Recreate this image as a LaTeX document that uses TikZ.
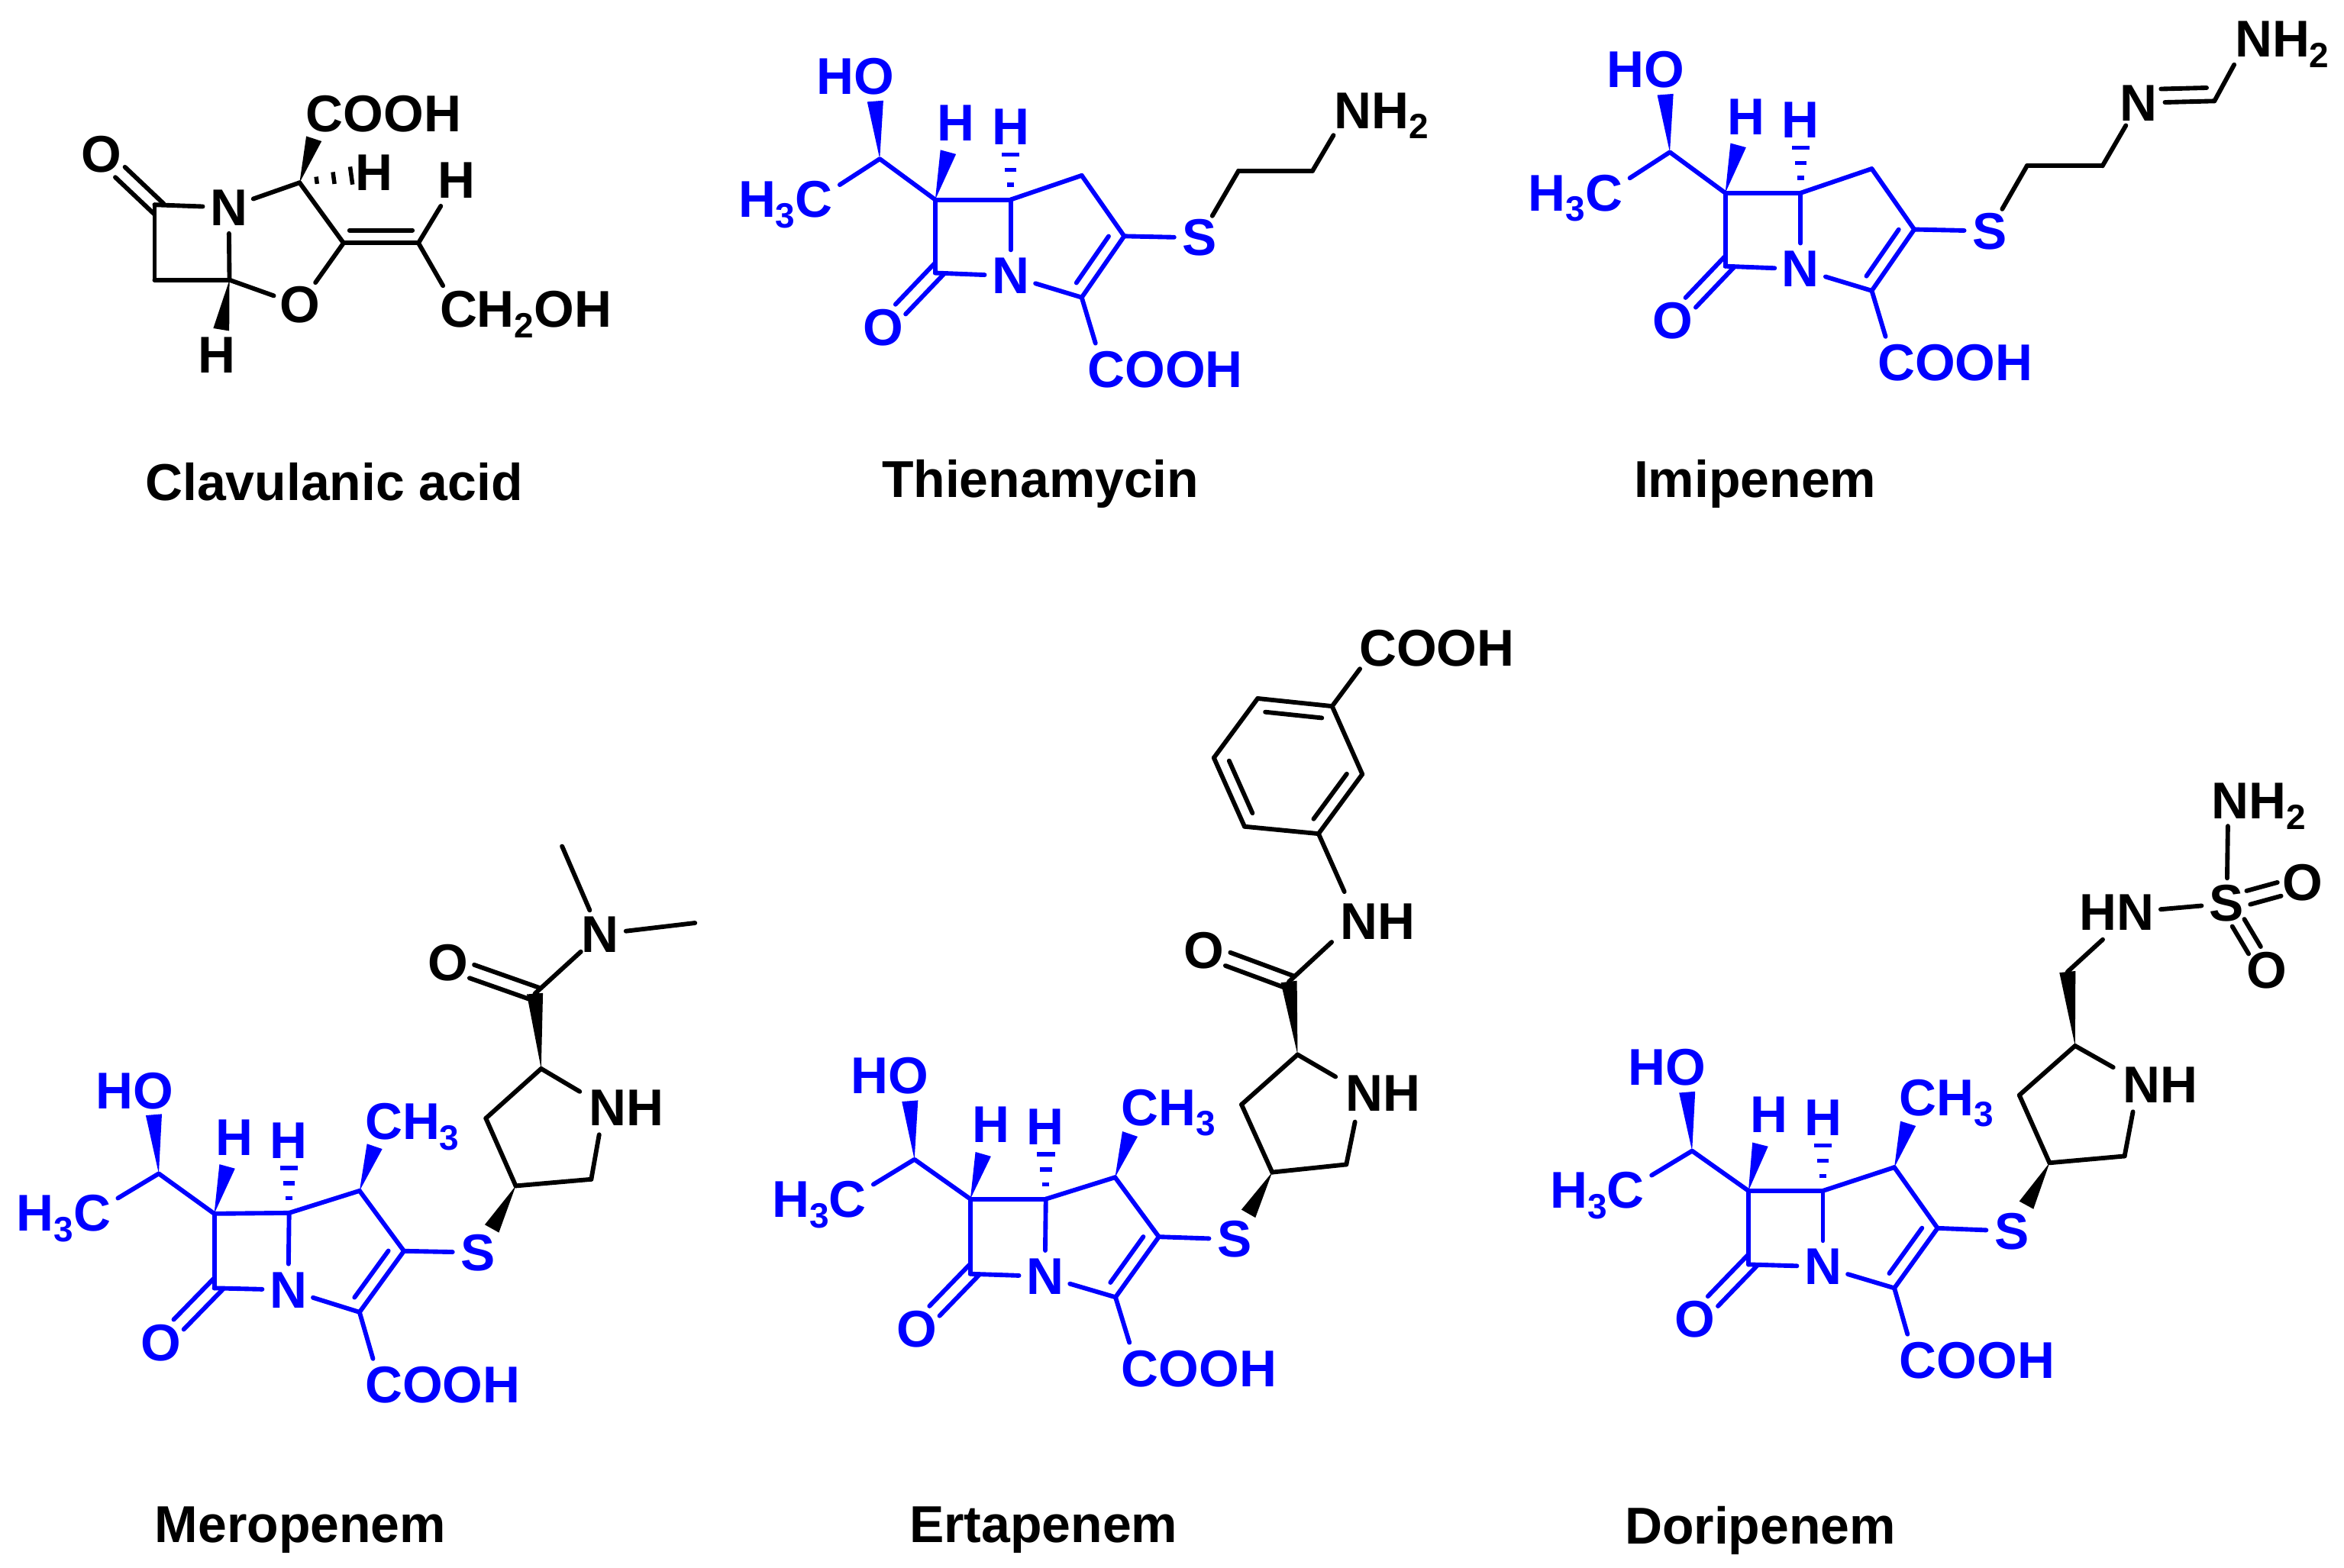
\documentclass[tikz,border=0pt]{standalone}
\usepackage{fontspec}
\setmainfont{Liberation Sans}
\usetikzlibrary{calc}
\definecolor{molblue}{RGB}{0,0,255}
\newcommand\sbs[1]{\raisebox{-7pt}{\fontsize{23.5}{23.5}\selectfont #1}}
\tikzset{
  bond/.style={line width=3pt,line cap=round,line join=round},
  hashline/.style={line width=2.8pt,line cap=butt},
  atom/.style={circle,inner sep=0pt,font=\fontsize{34.6}{34.6}\selectfont\bfseries},
  lab/.style={inner sep=0pt,anchor=base west,font=\fontsize{34.6}{34.6}\selectfont\bfseries},
  capt/.style={inner sep=0pt,anchor=base,text=black,font=\fontsize{34.7}{34.7}\selectfont\bfseries}
}
% wedge bond: narrow at #1, wide at #2
\newcommand\wedgeb[2]{\fill (#1) -- ($(#2)!5.4pt!90:(#1)$) -- ($(#2)!5.4pt!-90:(#1)$) -- cycle;}
% hashed bond from #1 to #2
\newcommand\hashb[2]{\foreach \ff/\ww in {.33/2.4,.66/4,1/6}{\draw[hashline] ($(#1)!\ff!(#2)!\ww pt!90:(#1)$) -- ($(#1)!\ff!(#2)!\ww pt!-90:(#1)$);}}
% double bond, symmetric: #1,#2 ends; #3 trim at start; #4 trim at end
\newcommand\dbl[4]{\draw[bond,shorten <=#3,shorten >=#4] ($(#1)!4.7pt!90:(#2)$) -- ($(#2)!4.7pt!-90:(#1)$);
  \draw[bond,shorten <=#3,shorten >=#4] ($(#1)!4.7pt!-90:(#2)$) -- ($(#2)!4.7pt!90:(#1)$);}
% inner line of a double bond: side #3 (90 or -90), #4 start trim, #5 end trim, offset 8.5
\newcommand\innerb[5]{\draw[bond,shorten <=#4,shorten >=#5] ($(#1)!8.5pt!#3:(#2)$) -- ($(#2)!8.5pt!-#3:(#1)$);}
% bonds shared by the blue carbapenem core
\newcommand\corebonds{
  \wedgeb{hoC}{hoW}
  \wedgeb{TL}{hW}
  \hashb{TR}{hE}
  \draw[bond] ([shift={(4.6,2.5)}]hc.north east) -- (hoC) -- (TL);
  \draw[bond] (TL) -- (TR);
  \draw[bond] (TR) -- (N);
  \draw[bond] (TL) -- (BL);
  \draw[bond] (BL) -- (N);
  \draw[bond] (TR) -- (C5);
  \draw[bond] (C5) -- (C3);
  \draw[bond] (C3) -- (C2);
  \draw[bond] (C2) -- (N);
  \draw[bond] (C3) -- (S);
  \draw[bond] (C2) -- ([shift={(5.5,-5)}]cooh.north west);
  \innerb{C3}{C2}{-90}{6pt}{6pt}
  \dbl{BL}{O}{-4pt}{17pt}
}
% thienamycin-type core and chain head
\newcommand\thiencore{
  \coordinate (hoC) at (588.5,106.3);
  \coordinate (hoW) at (585.5,67.7);
  \coordinate (TL) at (625.6,133.6);
  \coordinate (TR) at (676,133.6);
  \coordinate (BL) at (625.6,182.6);
  \coordinate (C5) at (723.6,117.4);
  \coordinate (C3) at (752,158);
  \coordinate (C2) at (723.6,199);
  \coordinate (hW) at (634.3,101.7);
  \coordinate (hE) at (676,103.3);
  \node[atom] (N) at (676,184.6) {N};
  \node[atom] (S) at (802.4,159.1) {S};
  \node[atom] (O) at (590.7,219.2) {O};
  \node[atom] (Ha) at (639.6,82.5) {H};
  \node[atom] (Hb) at (676,84.7) {H};
  \node[lab] (ho) at (546,63) {HO};
  \node[lab] (hc) at (493.7,145.5) {H\sbs{3}C};
  \node[lab] (cooh) at (727.3,259) {COOH};
  \corebonds
}
\begin{document}
\begin{tikzpicture}[x=1pt,y=-1pt]
\useasboundingbox (0,0) rectangle (1568,1049);
\fill[white] (0,0) rectangle (1568,1049);

% ---------- Clavulanic acid
\begin{scope}[name prefix=cl-]
  \coordinate (co) at (103.4,137);
  \coordinate (c4) at (153.5,187.3);
  \coordinate (c5) at (103.4,187.3);
  \coordinate (c3) at (200.4,122.2);
  \coordinate (v1) at (229.8,162.6);
  \coordinate (v2) at (279.9,162.6);
  \coordinate (w1) at (210,92.8);
  \coordinate (w2) at (148,220.5);
  \coordinate (hh) at (235,117.5);
  \node[atom] (Oa) at (68,103.5) {O};
  \node[atom] (N) at (153,138.8) {N};
  \node[atom] (Or) at (200.4,204) {O};
  \node[atom] (H1) at (250,115.4) {H};
  \node[atom] (H2) at (305.4,120.4) {H};
  \node[atom] (H3) at (145,237.5) {H};
  \node[lab] (cooh) at (204.6,88.2) {COOH};
  \node[lab] (ch) at (294,218.8) {CH\sbs{2}OH};
  \wedgeb{c3}{w1}
  \wedgeb{c4}{w2}
  \hashb{c3}{hh}
  \draw[bond] (co) -- (N);
  \draw[bond] (N) -- (c4);
  \draw[bond] (c4) -- (c5);
  \draw[bond] (c5) -- (co);
  \draw[bond] (N) -- (c3);
  \draw[bond] (c3) -- (v1);
  \draw[bond] (v1) -- (Or);
  \draw[bond] (Or) -- (c4);
  \draw[bond] (v1) -- (v2);
  \innerb{v1}{v2}{90}{4pt}{4pt}
  \draw[bond,shorten >=3pt] (v2) -- (H2);
  \draw[bond] (v2) -- ([shift={(2.3,-3.3)}]ch.north west);
  \dbl{co}{Oa}{-4pt}{17pt}
\end{scope}

% ---------- Thienamycin
\begin{scope}[name prefix=th-,color=molblue]
  \thiencore
\end{scope}
\coordinate (th-a) at (828.5,114.3);
\coordinate (th-b) at (878,114.3);
\node[lab] (th-nh) at (892.3,85.9) {NH\sbs{2}};
\draw[bond] (th-S) -- (th-a);
\draw[bond] (th-a) -- (th-b);
\draw[bond] (th-b) -- ([shift={(-0.3,4.6)}]th-nh.base west);

% ---------- Imipenem
\begin{scope}[name prefix=im-,color=molblue,shift={(528.5,-4.5)}]
  \thiencore
\end{scope}
\coordinate (im-a) at (1355.9,111);
\coordinate (im-b) at (1406.4,111);
\coordinate (im-c) at (1481.3,67.6);
\node[atom] (im-n) at (1430.8,68.9) {N};
\node[lab] (im-nh) at (1494.8,38.3) {NH\sbs{2}};
\draw[bond] (im-S) -- (im-a);
\draw[bond] (im-a) -- (im-b);
\draw[bond] (im-b) -- (im-n);
\draw[bond] (im-n) -- (im-c);
\draw[bond,shorten <=15pt,shorten >=5pt] ($(im-n)!9pt!90:(im-c)$) -- ($(im-c)!9pt!-90:(im-n)$);
\draw[bond] (im-c) -- ([shift={(-0.3,5)}]im-nh.base west);

% ---------- Meropenem
\begin{scope}[name prefix=me-,color=molblue]
  \coordinate (hoC) at (106.2,785.2);
  \coordinate (hoW) at (102.9,745.8);
  \coordinate (TL) at (143.3,812);
  \coordinate (TR) at (193.4,811.5);
  \coordinate (BL) at (143.3,861.8);
  \coordinate (C5) at (240.5,796.7);
  \coordinate (C3) at (270.2,837);
  \coordinate (C2) at (240.5,877.9);
  \coordinate (hW) at (152,780.4);
  \coordinate (hE) at (193.4,781.4);
  \coordinate (mW) at (250.6,767);
  \node[atom] (N) at (192.8,863) {N};
  \node[atom] (S) at (319.7,838) {S};
  \node[atom] (O) at (107.7,898.3) {O};
  \node[atom] (Ha) at (156.9,761) {H};
  \node[atom] (Hb) at (192.8,763) {H};
  \node[lab] (ho) at (64,741.8) {HO};
  \node[lab] (hc) at (10.8,823.5) {H\sbs{3}C};
  \node[lab] (ch3) at (244,762.2) {CH\sbs{3}};
  \node[lab] (cooh) at (244,938.4) {COOH};
  \corebonds
  \wedgeb{C5}{mW}
\end{scope}
\begin{scope}[name prefix=me-]
  \coordinate (r1) at (345,793.4);
  \coordinate (r1w) at (329,822);
  \coordinate (r2) at (395.5,789);
  \coordinate (r3) at (362,715);
  \coordinate (r4) at (325,748.2);
  \coordinate (am) at (357.8,664.8);
  \coordinate (m1) at (376,566.2);
  \coordinate (m2) at (464.9,617.5);
  \node[lab] (nh) at (394,753.3) {NH};
  \node[atom] (am-O) at (299.6,644.3) {O};
  \node[atom] (am-N) at (401.4,625) {N};
  \wedgeb{r1}{r1w}
  \wedgeb{r3}{am}
  \draw[bond] (r1) -- (r2);
  \draw[bond] (r2) -- ([shift={(6.8,5.6)}]nh.south west);
  \draw[bond] (r3) -- ([shift={(-6.2,1)}]nh.north west);
  \draw[bond] (r3) -- (r4);
  \draw[bond] (r4) -- (r1);
  \dbl{am}{am-O}{-2pt}{17pt}
  \draw[bond] (am) -- (am-N);
  \draw[bond] (am-N) -- (m1);
  \draw[bond] (am-N) -- (m2);
\end{scope}

% ---------- Ertapenem
\begin{scope}[name prefix=er-,color=molblue]
  \coordinate (hoC) at (611.7,775.7);
  \coordinate (hoW) at (608.7,736.6);
  \coordinate (TL) at (649.1,802.2);
  \coordinate (TR) at (699.6,802.2);
  \coordinate (BL) at (649.1,852.3);
  \coordinate (C5) at (745.9,787.7);
  \coordinate (C3) at (775.2,827.5);
  \coordinate (C2) at (746.2,867.9);
  \coordinate (hW) at (657.7,772.2);
  \coordinate (hE) at (699.6,772.2);
  \coordinate (mW) at (755.9,758.7);
  \node[atom] (N) at (699,854) {N};
  \node[atom] (S) at (825.7,829.2) {S};
  \node[atom] (O) at (613.3,889.3) {O};
  \node[atom] (Ha) at (662.8,752.2) {H};
  \node[atom] (Hb) at (699,753.9) {H};
  \node[lab] (ho) at (569,731.5) {HO};
  \node[lab] (hc) at (516.2,814.3) {H\sbs{3}C};
  \node[lab] (ch3) at (750,752.9) {CH\sbs{3}};
  \node[lab] (cooh) at (750,927.6) {COOH};
  \corebonds
  \wedgeb{C5}{mW}
\end{scope}
\begin{scope}[name prefix=er-]
  \coordinate (r1) at (851,784.3);
  \coordinate (r1w) at (835.1,812);
  \coordinate (r2) at (900.6,779.1);
  \coordinate (r3) at (868,705.6);
  \coordinate (r4) at (830.5,739);
  \coordinate (am) at (862.2,656.8);
  \coordinate (b1) at (882,557.8);
  \coordinate (b2) at (832.5,553);
  \coordinate (b3) at (812,507);
  \coordinate (b4) at (841.3,467.3);
  \coordinate (b5) at (891.1,472.5);
  \coordinate (b6) at (911.3,518);
  \node[lab] (nh) at (900,743.5) {NH};
  \node[lab] (nha) at (896.6,628.6) {NH};
  \node[lab] (cooh2) at (909,445.5) {COOH};
  \node[atom] (am-O) at (805.4,635.8) {O};
  \wedgeb{r1}{r1w}
  \wedgeb{r3}{am}
  \draw[bond] (r1) -- (r2);
  \draw[bond] (r2) -- ([shift={(6.4,6.9)}]nh.south west);
  \draw[bond] (r3) -- ([shift={(-6.6,0.9)}]nh.north west);
  \draw[bond] (r3) -- (r4);
  \draw[bond] (r4) -- (r1);
  \dbl{am}{am-O}{-2pt}{17pt}
  \draw[bond] (am) -- ([shift={(-5.8,1.7)}]nha.base west);
  \draw[bond] (b1) -- ([shift={(2.7,-8)}]nha.north west);
  \draw[bond] (b1) -- (b2);
  \draw[bond] (b2) -- (b3);
  \draw[bond] (b3) -- (b4);
  \draw[bond] (b4) -- (b5);
  \draw[bond] (b5) -- (b6);
  \draw[bond] (b6) -- (b1);
  \innerb{b2}{b3}{-90}{6pt}{6pt}
  \innerb{b4}{b5}{-90}{6pt}{6pt}
  \innerb{b6}{b1}{-90}{6pt}{6pt}
  \draw[bond] (b5) -- ([shift={(0.7,2)}]cooh2.base west);
\end{scope}

% ---------- Doripenem
\begin{scope}[name prefix=do-,color=molblue]
  \coordinate (hoC) at (1131.9,770);
  \coordinate (hoW) at (1128.6,730.7);
  \coordinate (TL) at (1169.6,796.7);
  \coordinate (TR) at (1219.4,796.7);
  \coordinate (BL) at (1169.6,846);
  \coordinate (C5) at (1267.2,781);
  \coordinate (C3) at (1296.1,821.7);
  \coordinate (C2) at (1267.2,861.8);
  \coordinate (hW) at (1177.5,765.7);
  \coordinate (hE) at (1219.4,766.3);
  \coordinate (mW) at (1276.4,751.7);
  \node[atom] (N) at (1219.4,847.5) {N};
  \node[atom] (S) at (1345.6,823.7) {S};
  \node[atom] (O) at (1134,882.8) {O};
  \node[atom] (Ha) at (1183.5,745.6) {H};
  \node[atom] (Hb) at (1219.4,748) {H};
  \node[lab] (ho) at (1089,726.1) {HO};
  \node[lab] (hc) at (1036.8,808.2) {H\sbs{3}C};
  \node[lab] (ch3) at (1270.3,746.5) {CH\sbs{3}};
  \node[lab] (cooh) at (1270.5,922) {COOH};
  \corebonds
  \wedgeb{C5}{mW}
\end{scope}
\begin{scope}[name prefix=do-]
  \coordinate (r1) at (1371,778);
  \coordinate (r1w) at (1355.5,806.3);
  \coordinate (r2) at (1421.2,773.5);
  \coordinate (r3) at (1388.1,699.7);
  \coordinate (r4) at (1350.8,732.7);
  \coordinate (am) at (1383,650.2);
  \node[lab] (nh) at (1420,737.6) {NH};
  \node[lab] (hn) at (1391,622.3) {HN};
  \node[lab] (nh2) at (1479,547.7) {NH\sbs{2}};
  \node[atom] (Sb) at (1489.6,604.5) {S};
  \node[atom] (Oa) at (1540.1,590.7) {O};
  \node[atom] (Ob) at (1516.4,649.5) {O};
  \wedgeb{r1}{r1w}
  \wedgeb{r3}{am}
  \draw[bond] (r1) -- (r2);
  \draw[bond] (r2) -- ([shift={(6.8,6)}]nh.south west);
  \draw[bond] (r3) -- ([shift={(-6.4,0.5)}]nh.north west);
  \draw[bond] (r3) -- (r4);
  \draw[bond] (r4) -- (r1);
  \draw[bond] (am) -- ([shift={(15.6,6.3)}]hn.base west);
  \draw[bond] ([shift={(4,-2)}]hn.east) -- (Sb);
  \draw[bond] (Sb) -- ([shift={(11.3,5)}]nh2.base west);
  \dbl{Sb}{Oa}{15pt}{16pt}
  \dbl{Sb}{Ob}{15pt}{16pt}
\end{scope}

% ---------- Captions
\node[capt] (c1) at (223.5,335) {Clavulanic acid};
\node[capt] (c2) at (696,333) {Thienamycin};
\node[capt] (c3) at (1174,333) {Imipenem};
\node[capt] (c4) at (201,1032) {Meropenem};
\node[capt] (c5) at (698,1032) {Ertapenem};
\node[capt] (c6) at (1177.5,1033) {Doripenem};
\end{tikzpicture}
\end{document}
